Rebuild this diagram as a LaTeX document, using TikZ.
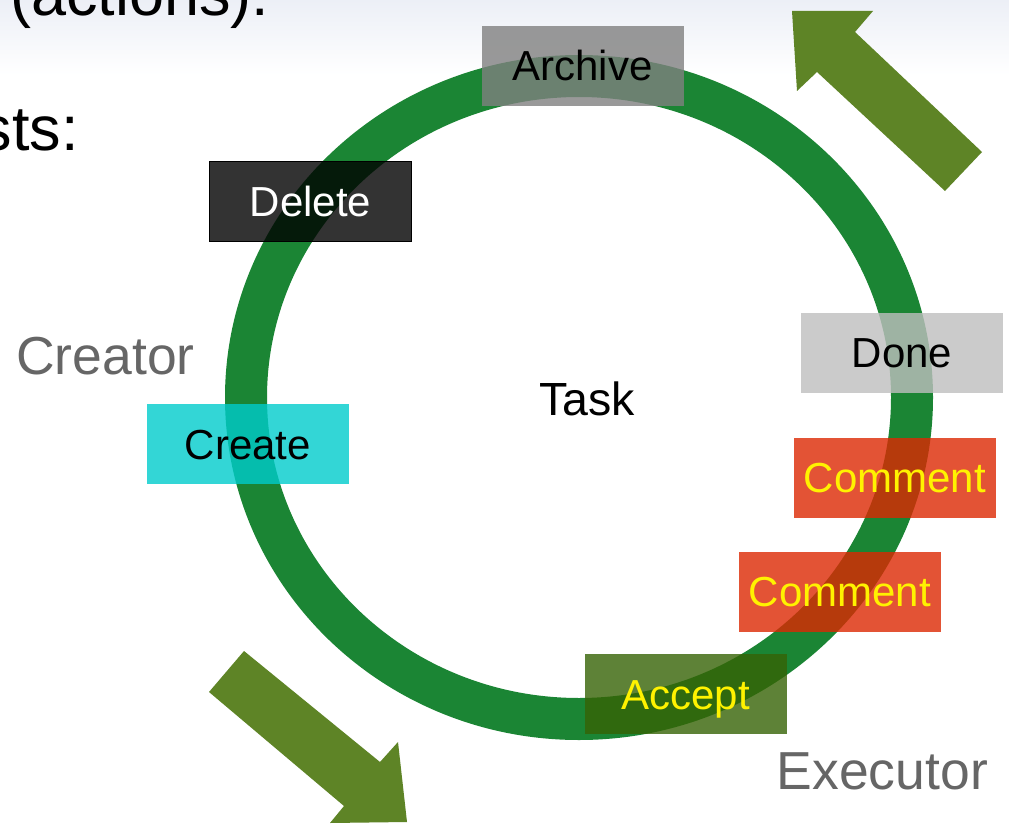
\documentclass[tikz,border=0pt]{standalone}
\usepackage{fontspec}
\setmainfont{Liberation Sans}
\definecolor{ringgreen}{RGB}{27,133,52}
\definecolor{arrowgreen}{RGB}{94,132,38}
\definecolor{bgtop}{RGB}{236,239,246}
\definecolor{archivegray}{RGB}{128,128,128}
\definecolor{donegray}{RGB}{191,191,191}
\definecolor{createcyan}{RGB}{0,204,204}
\definecolor{commentred}{RGB}{221,40,3}
\definecolor{acceptolive}{RGB}{54,99,5}
\definecolor{labelgray}{RGB}{102,102,102}
\begin{document}
\begin{tikzpicture}[x=1pt,y=-1pt,
  actbox/.style={rectangle, minimum width=202pt, minimum height=80pt, inner sep=0pt,
    fill opacity=0.8, text opacity=1, text height=30pt, text depth=0pt,
    font=\fontsize{42}{48}\selectfont},
  bigarrow/.style={fill=arrowgreen, draw=none},
  rolelabel/.style={text=labelgray, inner sep=0pt, anchor=base west, font=\fontsize{53.5}{60}\selectfont},
  headtext/.style={inner sep=0pt, font=\fontsize{63}{70}\selectfont}]
\useasboundingbox (0,0) rectangle (1009,824);
\clip (0,0) rectangle (1009,824);
\fill[white] (0,0) rectangle (1009,824);
\shade[top color=bgtop, bottom color=white] (0,0) rectangle (1009,75);

% heading fragments
\node[headtext, anchor=base west] (actions) at (10,16) {(actions):};
\node[headtext, anchor=base east] (sts) at (79,150) {sts:};

% ring
\draw[ringgreen, line width=42pt] (579,397.5) ellipse [x radius=333pt, y radius=321.5pt];

% big arrows
\fill[bigarrow] (792,11) -- (873,11) -- (855,32) -- (982,152) -- (945,191) -- (817,72) -- (797,91) -- cycle;
\fill[bigarrow] (407,822) -- (330,823) -- (344,806) -- (209,692) -- (244,651) -- (380,762) -- (398,742) -- cycle;

% action boxes
\node[actbox, fill=archivegray, text=black] (archive) at (582.5,66) {Archive};
\node[actbox, fill=black, draw=black, line width=1pt, text=white] (delete) at (310.5,201.5) {Delete};
\node[actbox, fill=donegray, text=black] (done) at (902,352.5) {Done};
\node[actbox, fill=commentred, text=yellow] (commentA) at (895,477.5) {Comment};
\node[actbox, fill=commentred, text=yellow] (commentB) at (840,591.5) {Comment};
\node[actbox, fill=acceptolive, text=yellow] (accept) at (685.5,694) {Accept};
\node[actbox, fill=createcyan, text=black] (create) at (248,444) {Create};

% labels
\node[inner sep=0pt, anchor=base, font=\fontsize{46.5}{52}\selectfont] (task) at (587,415) {Task};
\node[rolelabel] (creator) at (16,374) {Creator};
\node[rolelabel] (executor) at (776.5,789) {Executor};
\end{tikzpicture}
\end{document}
